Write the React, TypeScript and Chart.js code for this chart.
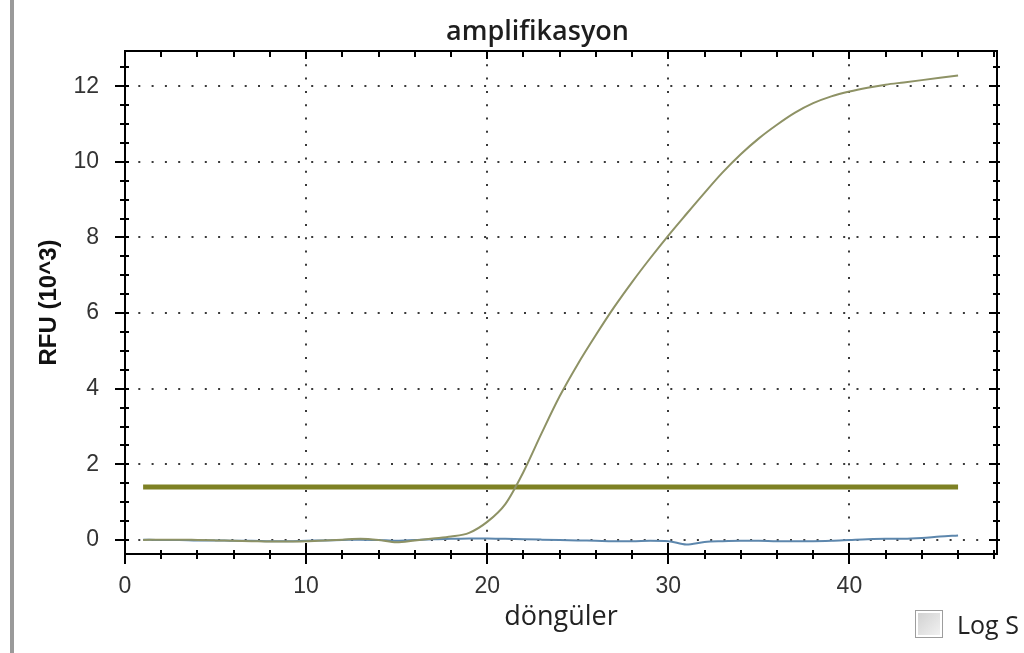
import React, { useEffect, useRef } from 'react';
import { Chart, registerables } from 'chart.js';

Chart.register(...registerables);

// ---- data ----
const cycles = [1, 2, 3, 4, 5, 6, 7, 8, 9, 10, 11, 12, 13, 14, 15, 16, 17, 18, 19, 20, 21, 22, 23, 24, 25, 26, 27, 28, 29, 30, 31, 32, 33, 34, 35, 36, 37, 38, 39, 40, 41, 42, 43, 44, 45, 46];
const amplificationRFU = [0.0, 0.01, 0.01, 0.0, -0.01, -0.02, -0.03, -0.04, -0.04, -0.03, -0.01, 0.01, 0.03, 0.0, -0.06, -0.01, 0.04, 0.09, 0.19, 0.48, 0.95, 1.8, 2.82, 3.8, 4.65, 5.42, 6.15, 6.82, 7.45, 8.05, 8.62, 9.18, 9.72, 10.2, 10.62, 10.98, 11.3, 11.55, 11.73, 11.86, 11.96, 12.04, 12.1, 12.16, 12.22, 12.28];
const baselineRFU = [0.01, 0.0, 0.0, -0.01, -0.01, -0.02, -0.02, -0.03, -0.03, -0.02, -0.01, 0.0, 0.01, 0.0, -0.02, 0.0, 0.02, 0.03, 0.04, 0.04, 0.03, 0.02, 0.01, 0.0, -0.01, -0.02, -0.03, -0.03, -0.02, -0.03, -0.12, -0.05, -0.03, -0.02, -0.02, -0.03, -0.03, -0.03, -0.02, 0.0, 0.02, 0.03, 0.03, 0.05, 0.09, 0.12];
const thresholdCycles = [1, 46];
const thresholdRFU = 1.4;
const xTickValues = [0, 10, 20, 30, 40];
const yTickValues = [0, 2, 4, 6, 8, 10, 12];
const xRange = [0, 48.15];
const yRange = [-0.37, 12.93];
const xMinorStep = 2;
const yMinorStep = 0.5;

const chartTitle = 'amplifikasyon';
const xTitle = 'döngüler';
const yTitle = 'RFU (10^3)';
const logLabel = 'Log S';

const framePlugin = {
  id: 'frameTicks',
  afterDatasetsDraw(chart: any) {
    const { ctx, chartArea: a, scales } = chart;
    const x = scales.x;
    const y = scales.y;
    ctx.save();
    ctx.strokeStyle = '#000';
    ctx.lineWidth = 2;
    ctx.strokeRect(a.left, a.top, a.right - a.left, a.bottom - a.top);
    ctx.beginPath();
    const nx = Math.floor(x.max / xMinorStep + 1e-9);
    for (let k = 0; k <= nx; k++) {
      const v = k * xMinorStep;
      const px = Math.round(x.getPixelForValue(v));
      const major = v % 10 === 0;
      ctx.moveTo(px, a.bottom - (major ? 11 : 4));
      ctx.lineTo(px, a.bottom + (major ? 10 : 5));
      ctx.moveTo(px, a.top);
      ctx.lineTo(px, a.top + (major ? 8 : 6));
    }
    const ny = Math.floor(y.max / yMinorStep + 1e-9);
    for (let k = 0; k <= ny; k++) {
      const v = k * yMinorStep;
      const py = Math.round(y.getPixelForValue(v));
      const major = v % 2 === 0;
      ctx.moveTo(a.left - (major ? 10 : 5), py);
      ctx.lineTo(a.left + 4, py);
      ctx.moveTo(a.right - (major ? 8 : 4), py);
      ctx.lineTo(a.right + 3, py);
    }
    ctx.stroke();
    ctx.restore();
  },
};

export default function App() {
  const canvasRef = useRef<HTMLCanvasElement | null>(null);

  useEffect(() => {
    const canvas = canvasRef.current;
    if (!canvas) return;
    const chart = new Chart(canvas, {
      type: 'line',
      data: {
        datasets: [
          {
            label: 'amp',
            data: cycles.map((c, i) => ({ x: c, y: amplificationRFU[i] })),
            borderColor: '#8e9265',
            borderWidth: 2,
            pointRadius: 0,
            cubicInterpolationMode: 'monotone',
            fill: false,
          },
          {
            label: 'base',
            data: cycles.map((c, i) => ({ x: c, y: baselineRFU[i] })),
            borderColor: '#5d87ad',
            borderWidth: 2,
            pointRadius: 0,
            cubicInterpolationMode: 'monotone',
            fill: false,
          },
          {
            label: 'threshold',
            data: thresholdCycles.map((c) => ({ x: c, y: thresholdRFU })),
            borderColor: '#7e8124',
            borderWidth: 5,
            pointRadius: 0,
            fill: false,
          },
        ],
      },
      options: {
        responsive: false,
        animation: false,
        devicePixelRatio: 1,
        layout: { padding: { left: 0, right: 27, top: 51, bottom: 0 } },
        plugins: {
          legend: { display: false },
          title: { display: false },
          tooltip: { enabled: false },
        },
        scales: {
          x: {
            type: 'linear',
            min: xRange[0],
            max: xRange[1],
            afterBuildTicks: (s: any) => {
              s.ticks = xTickValues.map((v) => ({ value: v }));
            },
            afterFit: (s: any) => {
              s.height = 99;
            },
            grid: {
              drawTicks: false,
              lineWidth: 2,
              color: (c: any) => (c.tick && c.tick.value !== 0 ? '#3a3a3a' : 'rgba(0,0,0,0)'),
            },
            border: { display: false, dash: [2, 11.3] },
            ticks: {
              padding: 19,
              color: '#333',
              font: { family: 'Liberation Sans', size: 23 },
              maxRotation: 0,
              autoSkip: false,
            },
            title: {
              display: true,
              text: xTitle,
              color: '#222',
              font: { family: 'Open Sans', size: 27, weight: '500' },
              padding: { top: 0, bottom: 19 },
            },
          },
          y: {
            type: 'linear',
            min: yRange[0],
            max: yRange[1],
            afterBuildTicks: (s: any) => {
              s.ticks = yTickValues.map((v) => ({ value: v }));
            },
            afterFit: (s: any) => {
              s.width = 125;
            },
            grid: {
              drawTicks: false,
              lineWidth: 2,
              color: '#3a3a3a',
            },
            border: { display: false, dash: [2, 11.3] },
            ticks: {
              padding: 26,
              color: '#333',
              font: { family: 'Liberation Sans', size: 23 },
              autoSkip: false,
            },
            title: {
              display: true,
              text: yTitle,
              color: '#111',
              font: { family: 'Liberation Sans', size: 24, weight: 'bold' },
              padding: { top: 35, bottom: 0 },
            },
          },
        },
      },
      plugins: [framePlugin],
    } as any);
    return () => chart.destroy();
  }, []);

  return (
    <div
      style={{
        position: 'fixed',
        left: 0,
        top: 0,
        width: 1024,
        height: 653,
        overflow: 'hidden',
        background: '#fff',
      }}
    >
      <canvas ref={canvasRef} width={1024} height={653} style={{ position: 'absolute', left: 0, top: 0, width: 1024, height: 653 }} />
      <div style={{ position: 'absolute', left: 10, top: 0, width: 4, height: 653, background: '#9a9a9a' }} />
      <div
        style={{
          position: 'absolute',
          left: 0,
          width: 1075,
          top: 15,
          lineHeight: '30px',
          textAlign: 'center',
          fontFamily: 'Open Sans',
          fontSize: 27,
          fontWeight: 600,
          color: '#1e1e1e',
        }}
      >
        {chartTitle}
      </div>
      <div
        style={{
          position: 'absolute',
          left: 915,
          top: 610,
          width: 26,
          height: 26,
          border: '1px solid #9d9d9d',
          boxShadow: 'inset 0 0 0 2px #fff',
          background: 'linear-gradient(135deg, #cfcfcf, #f4f4f4)',
        }}
      />
      <div
        style={{
          position: 'absolute',
          left: 957,
          top: 609,
          lineHeight: '30px',
          fontFamily: 'Open Sans',
          fontSize: 25,
          color: '#222',
          whiteSpace: 'nowrap',
        }}
      >
        {logLabel}
      </div>
    </div>
  );
}
